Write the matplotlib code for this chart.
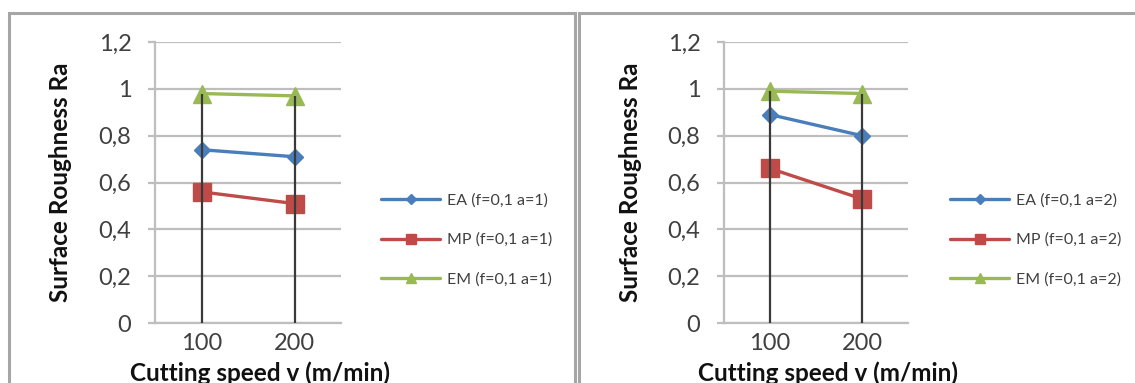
import matplotlib
matplotlib.use("Agg")
import matplotlib.pyplot as plt
from matplotlib.patches import Rectangle

# ---- data ----
categories = ["100", "200"]
series_names_left = ["EA (f=0,1 a=1)", "MP (f=0,1 a=1)", "EM (f=0,1 a=1)"]
series_names_right = ["EA (f=0,1 a=2)", "MP (f=0,1 a=2)", "EM (f=0,1 a=2)"]
ea_left = [0.74, 0.71]
mp_left = [0.56, 0.51]
em_left = [0.98, 0.97]
ea_right = [0.89, 0.80]
mp_right = [0.66, 0.53]
em_right = [0.99, 0.98]
y_ticks = [0, 0.2, 0.4, 0.6, 0.8, 1.0, 1.2]
y_tick_labels = ["0", "0,2", "0,4", "0,6", "0,8", "1", "1,2"]
x_label = "Cutting speed v (m/min)"
y_label = "Surface Roughness Ra"

FONT = "Lato"
W, H = 1135, 383
fig = plt.figure(figsize=(W / 100, H / 100), dpi=100)
fig.patch.set_facecolor("white")

colors = ["#4A7EBB", "#BE4B48", "#98B954"]
markers = ["D", "s", "^"]
msizes = [8.5, 13, 13]


def px(x0, y0, w, h):
    return [x0 / W, 1 - (y0 + h) / H, w / W, h / H]


def draw_panel(ax, seriess, names, legend_x):
    xs = list(range(len(categories)))
    ax.set_xlim(-0.5, len(categories) - 0.5)
    ax.set_ylim(0, 1.2)
    for s, name, c, m, ms in zip(seriess, names, colors, markers, msizes):
        ax.plot(xs, s, color=c, lw=2.4, marker=m, ms=ms, mfc=c, mec=c,
                label=name, zorder=3, solid_capstyle="round")
    # drop lines
    tops = [max(v) for v in zip(*seriess)]
    ax.vlines(xs, 0, tops, color="#3a3a3a", lw=1.6, zorder=4)
    ax.set_yticks(y_ticks)
    ax.set_yticklabels(y_tick_labels)
    ax.set_xticks(xs)
    ax.set_xticklabels(categories)
    ax.grid(axis="y", color="#BEBEBE", lw=1.6, zorder=0)
    for sp in ["top", "right"]:
        ax.spines[sp].set_visible(False)
    for sp in ["left", "bottom"]:
        ax.spines[sp].set_color("#BEBEBE")
        ax.spines[sp].set_linewidth(1.6)
    ax.tick_params(axis="y", length=5, width=1.6, color="#BEBEBE", pad=12,
                   labelsize=17, labelcolor="#404040")
    ax.tick_params(axis="x", length=0, pad=7, labelsize=17, labelcolor="#404040")
    for t in ax.get_xticklabels() + ax.get_yticklabels():
        t.set_fontfamily(FONT)
    ax.set_xlabel(x_label, fontsize=17.5, fontweight="bold", fontfamily=FONT,
                  color="#111111")
    ax.set_ylabel(y_label, fontsize=17.5, fontweight="bold", fontfamily=FONT,
                  color="#111111")
    ax.xaxis.label.set_va("center")
    ax.yaxis.label.set_va("center")
    ax.xaxis.set_label_coords(0.565, -0.18)
    ax.yaxis.set_label_coords(-0.51, 0.5)
    leg = ax.legend(loc="center left", bbox_to_anchor=(legend_x / W, 1 - 240 / H),
                    bbox_transform=fig.transFigure, frameon=False,
                    markerscale=0.6, handlelength=3.7, handletextpad=0.45,
                    labelspacing=1.55, borderpad=0, borderaxespad=0,
                    prop={"family": FONT, "size": 11.5})
    for t in leg.get_texts():
        t.set_color("#404040")


axL = fig.add_axes(px(155, 42, 186, 281))
draw_panel(axL, [ea_left, mp_left, em_left], series_names_left, 381)
axR = fig.add_axes(px(724, 42, 184, 281))
draw_panel(axR, [ea_right, mp_right, em_right], series_names_right, 950)

# chart borders
for x0, x1 in [(9, 575), (579, 1200)]:
    fig.add_artist(Rectangle((x0 / W, -0.2), (x1 - x0) / W, 1.2 - 13 / H,
                             transform=fig.transFigure, fill=False,
                             edgecolor="#A6A6A6", lw=2.2, zorder=10))

fig.savefig("out.png", dpi=100)
